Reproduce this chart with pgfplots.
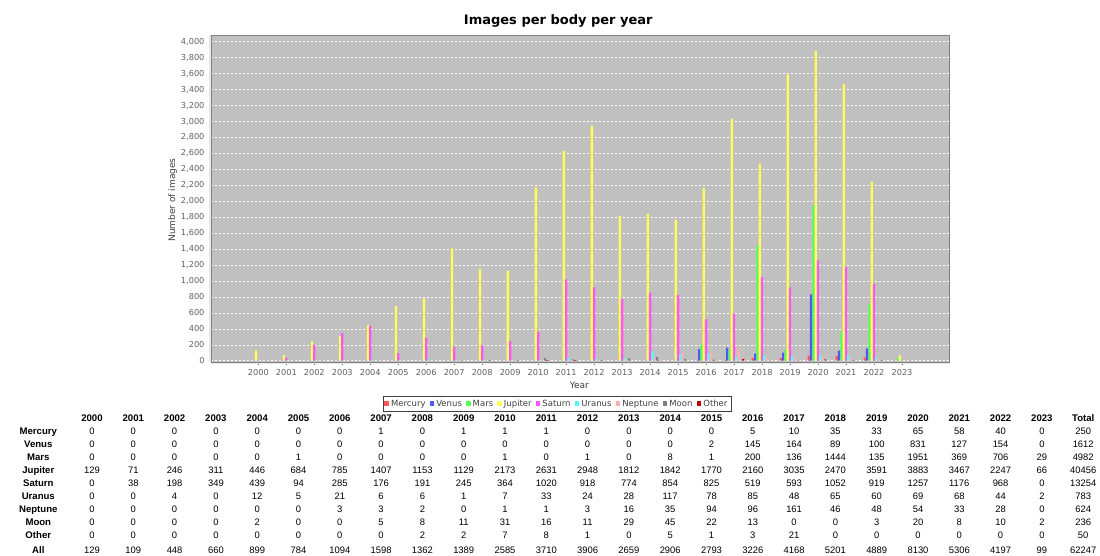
\documentclass[border=0pt]{standalone}
\usepackage{fontspec}
\setmainfont{DejaVu Sans}
\newfontfamily\tablefont{Liberation Sans}
\usepackage{pgfplots}
\pgfplotsset{compat=1.18}
\usepackage{pgfplotstable}
\definecolor{cMercury}{RGB}{255,85,85}
\definecolor{cVenus}{RGB}{85,85,255}
\definecolor{cMars}{RGB}{85,255,85}
\definecolor{cJupiter}{RGB}{255,255,85}
\definecolor{cSaturn}{RGB}{255,85,255}
\definecolor{cUranus}{RGB}{85,255,255}
\definecolor{cNeptune}{RGB}{255,175,175}
\definecolor{cMoon}{RGB}{128,128,128}
\definecolor{cOther}{RGB}{192,0,0}
\definecolor{bggray}{RGB}{192,192,192}
\definecolor{framegray}{RGB}{128,128,128}
\definecolor{tickgray}{RGB}{96,96,96}
\definecolor{labelgray}{RGB}{64,64,64}
\definecolor{stripgray}{RGB}{232,232,232}

\pgfplotstableread{
idx Mercury Venus Mars Jupiter Saturn Uranus Neptune Moon Other
0 0 0 0 129 0 0 0 0 0
1 0 0 0 71 38 0 0 0 0
2 0 0 0 246 198 4 0 0 0
3 0 0 0 311 349 0 0 0 0
4 0 0 0 446 439 12 0 2 0
5 0 0 1 684 94 5 0 0 0
6 0 0 0 785 285 21 3 0 0
7 1 0 0 1407 176 6 3 5 0
8 0 0 0 1153 191 6 2 8 2
9 1 0 0 1129 245 1 0 11 2
10 1 0 1 2173 364 7 1 31 7
11 1 0 0 2631 1020 33 1 16 8
12 0 0 1 2948 918 24 3 11 1
13 0 0 0 1812 774 28 16 29 0
14 0 0 8 1842 854 117 35 45 5
15 0 2 1 1770 825 78 94 22 1
16 5 145 200 2160 519 85 96 13 3
17 10 164 136 3035 593 48 161 0 21
18 35 89 1444 2470 1052 65 46 0 0
19 33 100 135 3591 919 60 48 3 0
20 65 831 1951 3883 1257 69 54 20 0
21 58 127 369 3467 1176 68 33 8 0
22 40 154 706 2247 968 44 28 10 0
23 0 0 29 66 0 2 0 2 0
}\bodydata

\begin{document}
\begin{tikzpicture}
\path[use as bounding box] (0pt,0pt) rectangle (1100pt,-556pt);
\begin{axis}[
  at={(211pt,-362.3pt)}, anchor=south west,
  scale only axis, width=738.3pt, height=327.3pt,
  xmin=-1.69, xmax=24.69, ymin=-20, ymax=4084,
  ybar=0pt, bar width=2.3pt,
  xtick={0,1,2,3,4,5,6,7,8,9,10,11,12,13,14,15,16,17,18,19,20,21,22,23},
  xticklabels={2000,2001,2002,2003,2004,2005,2006,2007,2008,2009,2010,2011,2012,2013,2014,2015,2016,2017,2018,2019,2020,2021,2022,2023},
  ytick={0,200,...,4000},
  scaled y ticks=false,
  /pgf/number format/.cd, 1000 sep={,}, assume math mode=true,
  /pgfplots/.cd,
  ticklabel style={font=\fontsize{8.2}{9}\selectfont, text=tickgray},
  yticklabel style={xshift=-0.5pt},
  xticklabel style={yshift=-1.5pt},
  tick align=outside, major tick length=2.5pt,
  tick style={draw=tickgray, line width=0.5pt},
  xtick pos=lower, ytick pos=left,
  ymajorgrids=true, xmajorgrids=false,
  major grid style={draw=white, dash pattern=on 2pt off 2pt, line width=0.5pt},
  axis background/.style={fill=bggray},
  axis line style={draw=framegray, line width=0.8pt},
  legend style={at={(rel axis cs:0.4686,-0.1265)}, anchor=center, legend columns=9,
    draw=labelgray, fill=white, font=\fontsize{8.5}{9.5}\selectfont, text=labelgray,
    inner sep=1.5pt, /tikz/every even column/.append style={column sep=2.2pt}},
  legend image code/.code={\fill[#1] (0pt,-2.3pt) rectangle (4.6pt,2.3pt);},
  clip=false,
]
\addplot[fill=cMercury, draw=none] table[x=idx,y=Mercury]{\bodydata};
\addplot[fill=cVenus, draw=none] table[x=idx,y=Venus]{\bodydata};
\addplot[fill=cMars, draw=none] table[x=idx,y=Mars]{\bodydata};
\addplot[fill=cJupiter, draw=none] table[x=idx,y=Jupiter]{\bodydata};
\addplot[fill=cSaturn, draw=none] table[x=idx,y=Saturn]{\bodydata};
\addplot[fill=cUranus, draw=none] table[x=idx,y=Uranus]{\bodydata};
\addplot[fill=cNeptune, draw=none] table[x=idx,y=Neptune]{\bodydata};
\addplot[fill=cMoon, draw=none] table[x=idx,y=Moon]{\bodydata};
\addplot[fill=cOther, draw=none] table[x=idx,y=Other]{\bodydata};
\legend{Mercury,Venus,Mars,Jupiter,Saturn,Uranus,Neptune,Moon,Other}
\end{axis}
% axis strips
\draw[stripgray, line width=1.6pt] (211pt,-363.3pt) -- (949.3pt,-363.3pt);
\draw[stripgray, line width=1.6pt] (209.9pt,-35pt) -- (209.9pt,-362.3pt);
% titles and labels
\node[font=\bfseries\fontsize{13}{15}\selectfont, text=black] at (558.3pt,-21pt) {Images per body per year};
\node[font=\fontsize{9}{11}\selectfont, text=labelgray, rotate=90] at (172.7pt,-200pt) {Number of images};
\node[font=\fontsize{9}{11}\selectfont, text=labelgray] at (579.3pt,-385.7pt) {Year};
% data table
\begin{scope}[x=1pt,y=-1pt, every node/.style={text height=7pt, text depth=2pt, inner sep=0pt}]
\foreach \h [count=\i from 0] in {2000,2001,2002,2003,2004,2005,2006,2007,2008,2009,2010,2011,2012,2013,2014,2015,2016,2017,2018,2019,2020,2021,2022,2023,Total}
  \node[font=\tablefont\bfseries\fontsize{9.6}{11}\selectfont] at ({92+41.3*\i},419.3) {\h};
\foreach \name/\vals/\yy in {
  Mercury/{0,0,0,0,0,0,0,1,0,1,1,1,0,0,0,0,5,10,35,33,65,58,40,0,250}/432.3,
  Venus/{0,0,0,0,0,0,0,0,0,0,0,0,0,0,0,2,145,164,89,100,831,127,154,0,1612}/445.2,
  Mars/{0,0,0,0,0,1,0,0,0,0,1,0,1,0,8,1,200,136,1444,135,1951,369,706,29,4982}/458.1,
  Jupiter/{129,71,246,311,446,684,785,1407,1153,1129,2173,2631,2948,1812,1842,1770,2160,3035,2470,3591,3883,3467,2247,66,40456}/471.0,
  Saturn/{0,38,198,349,439,94,285,176,191,245,364,1020,918,774,854,825,519,593,1052,919,1257,1176,968,0,13254}/483.9,
  Uranus/{0,0,4,0,12,5,21,6,6,1,7,33,24,28,117,78,85,48,65,60,69,68,44,2,783}/496.8,
  Neptune/{0,0,0,0,0,0,3,3,2,0,1,1,3,16,35,94,96,161,46,48,54,33,28,0,624}/509.7,
  Moon/{0,0,0,0,2,0,0,5,8,11,31,16,11,29,45,22,13,0,0,3,20,8,10,2,236}/522.6,
  Other/{0,0,0,0,0,0,0,0,2,2,7,8,1,0,5,1,3,21,0,0,0,0,0,0,50}/535.5,
  All/{129,109,448,660,899,784,1094,1598,1362,1389,2585,3710,3906,2659,2906,2793,3226,4168,5201,4889,8130,5306,4197,99,62247}/550.7}
{
  \node[font=\tablefont\bfseries\fontsize{9.6}{11}\selectfont] at (38.3,\yy) {\name};
  \foreach \v [count=\i from 0] in \vals
    \node[font=\tablefont\fontsize{9.4}{11}\selectfont] at ({92+41.3*\i},\yy) {\v};
}
\end{scope}
\end{tikzpicture}
\end{document}
